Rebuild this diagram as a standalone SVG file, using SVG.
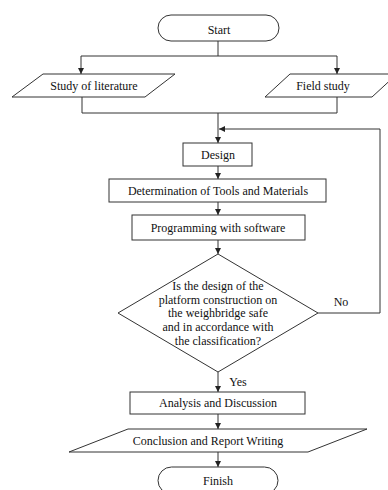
<svg xmlns="http://www.w3.org/2000/svg" width="388" height="490" viewBox="0 0 388 490">
<style>
.s{fill:#fff;stroke:#333;stroke-width:1}
.c{fill:none;stroke:#333;stroke-width:1}
text{font-family:"Liberation Serif","Times New Roman",serif;font-size:12px;fill:#111;text-anchor:middle}
</style>
<defs>
<marker id="ah" markerUnits="userSpaceOnUse" markerWidth="6" markerHeight="6" refX="6" refY="3" orient="auto">
<path d="M0,0 L6,3 L0,6 z" fill="#222"/>
</marker>
</defs>
<rect width="388" height="490" fill="#fff"/>
<g id="connectors">
<path class="c" d="M218,41 V56 M81,56 H337"/>
<path class="c" d="M81,56 V74" marker-end="url(#ah)"/>
<path class="c" d="M337,56 V74" marker-end="url(#ah)"/>
<path class="c" d="M82,97 V113 H337 M337,97 V113"/>
<path class="c" d="M218,113 V143" marker-end="url(#ah)"/>
<path class="c" d="M318,313 H380 V129 H219" marker-end="url(#ah)"/>
<path class="c" d="M218,166 V179" marker-end="url(#ah)"/>
<path class="c" d="M218,202 V215" marker-end="url(#ah)"/>
<path class="c" d="M218,240 V254" marker-end="url(#ah)"/>
<path class="c" d="M218,372 V392" marker-end="url(#ah)"/>
<path class="c" d="M218,414 V429" marker-end="url(#ah)"/>
<path class="c" d="M218,452 V467" marker-end="url(#ah)"/>
<text x="341" y="306">No</text>
<text x="238" y="386">Yes</text>
</g>
<g id="start">
<rect class="s" x="158" y="15" width="121" height="26" rx="13"/>
<text x="219" y="34">Start</text>
</g>
<g id="literature">
<polygon class="s" points="43,74 175,74 145,97 12,97"/>
<text x="94" y="90">Study of literature</text>
</g>
<g id="field">
<polygon class="s" points="290,74 397,74 372,97 265,97"/>
<text x="323" y="90">Field study</text>
</g>
<g id="design">
<rect class="s" x="183" y="143" width="69" height="23"/>
<text x="218" y="159">Design</text>
</g>
<g id="tools">
<rect class="s" x="109" y="179" width="217" height="23"/>
<text x="218" y="194.5">Determination of Tools and Materials</text>
</g>
<g id="programming">
<rect class="s" x="132" y="215" width="173" height="25"/>
<text x="218" y="231.5">Programming with software</text>
</g>
<g id="decision">
<polygon class="s" points="218,254 318,313 218,372 118,313"/>
<text x="218" y="290">Is the design of the</text>
<text x="218" y="304">platform construction on</text>
<text x="218" y="317">the weighbridge safe</text>
<text x="218" y="331">and in accordance with</text>
<text x="218" y="345">the classification?</text>
</g>
<g id="analysis">
<rect class="s" x="130" y="392" width="175" height="22"/>
<text x="218" y="407">Analysis and Discussion</text>
</g>
<g id="conclusion">
<polygon class="s" points="128,429 367,429 308,452 69,452"/>
<text x="208" y="444.5">Conclusion and Report Writing</text>
</g>
<g id="finish">
<rect class="s" x="158" y="467" width="120" height="27" rx="13.5"/>
<text x="218" y="485">Finish</text>
</g>
</svg>
